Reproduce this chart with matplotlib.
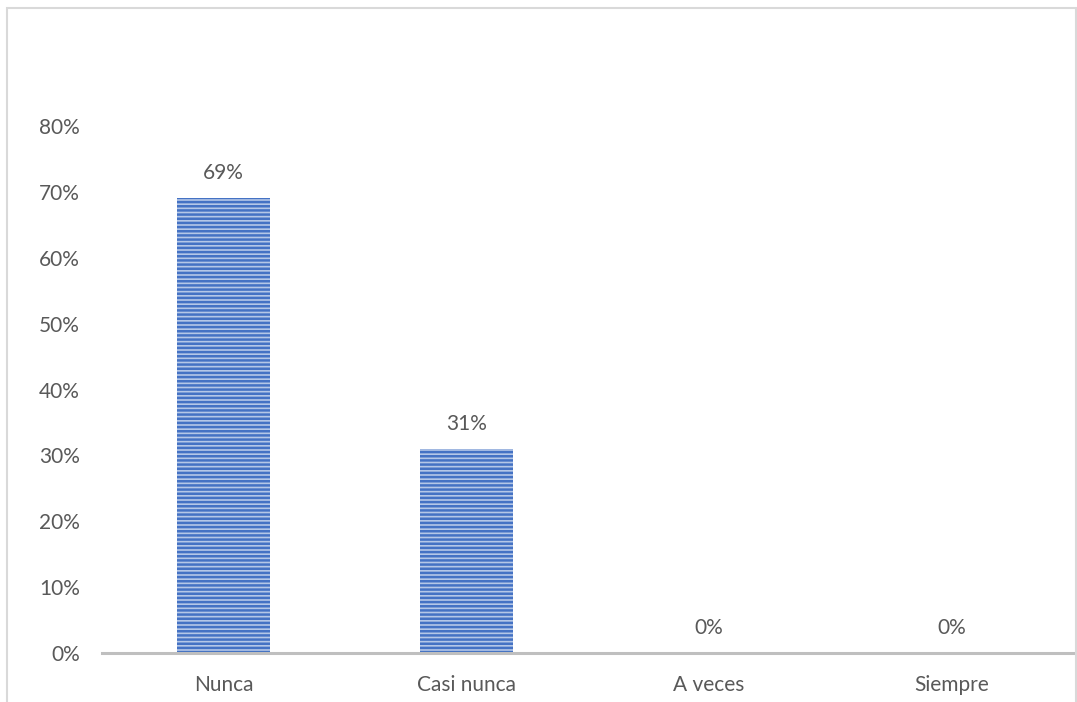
import matplotlib
matplotlib.use("Agg")
import matplotlib.pyplot as plt
from matplotlib.patches import Rectangle
import numpy as np

categories = ["Nunca", "Casi nunca", "A veces", "Siempre"]
values = [0.69, 0.31, 0.0, 0.0]
labels = ["69%", "31%", "0%", "0%"]
yticks = [0, 0.1, 0.2, 0.3, 0.4, 0.5, 0.6, 0.7, 0.8]
ytick_labels = ["0%", "10%", "20%", "30%", "40%", "50%", "60%", "70%", "80%"]

W, H = 1077, 702
fig = plt.figure(figsize=(W / 100, H / 100), dpi=100)
plt.rcParams['hatch.linewidth'] = 1.8

fig.patches.append(Rectangle((7 / W, -0.05), (1076 - 7) / W, (H - 8) / H + 0.05,
                             transform=fig.transFigure, fill=False,
                             edgecolor="#d9d9d9", linewidth=1.5))

ax = fig.add_axes([102 / W, 49 / H, (1073 - 102) / W, (653 - 126) / H])
x = np.arange(len(categories))
bars = ax.bar(x, values, width=0.383, color="#b4c7e7", edgecolor="#4472C4",
              hatch="----", linewidth=0)
ax.set_xlim(-0.5, len(categories) - 0.5)
ax.set_ylim(0, 0.8)
ax.set_yticks(yticks)
ax.set_yticklabels(ytick_labels)
ax.set_xticks(x)
ax.set_xticklabels(categories)
font = dict(family="Lato", size=15, color="#595959")
for t in ax.get_xticklabels() + ax.get_yticklabels():
    t.set_fontfamily("Lato")
    t.set_fontsize(15)
    t.set_color("#595959")
ax.tick_params(axis="y", length=0, pad=16)
ax.tick_params(axis="x", length=0, pad=16)
for s in ["top", "right", "left"]:
    ax.spines[s].set_visible(False)
ax.spines["bottom"].set_color("#bfbfbf")
ax.spines["bottom"].set_linewidth(2.2)
ax.spines["bottom"].set_zorder(5)

for xi, v, lab in zip(x, values, labels):
    ax.annotate(lab, (xi, v), xytext=(0, 11), textcoords="offset points",
                ha="center", va="bottom", **font)

fig.savefig("out.png", dpi=100)
